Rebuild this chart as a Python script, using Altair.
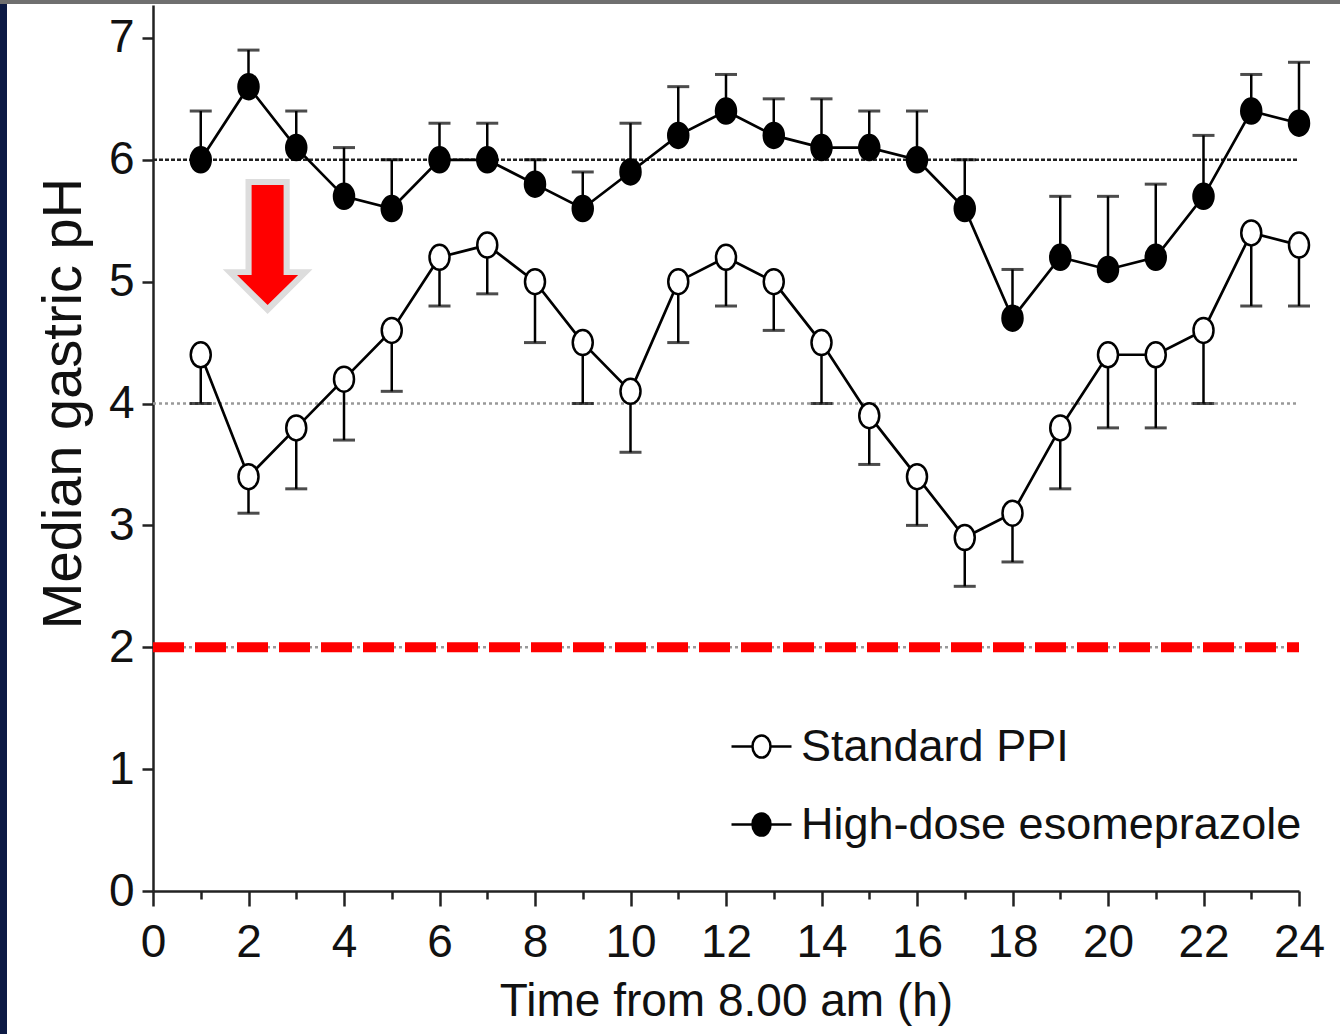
import altair as alt
import pandas as pd

# ---- data ----
hours = list(range(1, 25))
high_dose = [6.0, 6.6, 6.1, 5.7, 5.6, 6.0, 6.0, 5.8, 5.6, 5.9, 6.2, 6.4,
             6.2, 6.1, 6.1, 6.0, 5.6, 4.7, 5.2, 5.1, 5.2, 5.7, 6.4, 6.3]
high_dose_upper = [6.4, 6.9, 6.4, 6.1, 6.0, 6.3, 6.3, 6.0, 5.9, 6.3, 6.6, 6.7,
                   6.5, 6.5, 6.4, 6.4, 6.0, 5.1, 5.7, 5.7, 5.8, 6.2, 6.7, 6.8]
standard = [4.4, 3.4, 3.8, 4.2, 4.6, 5.2, 5.3, 5.0, 4.5, 4.1, 5.0, 5.2,
            5.0, 4.5, 3.9, 3.4, 2.9, 3.1, 3.8, 4.4, 4.4, 4.6, 5.4, 5.3]
standard_lower = [4.0, 3.1, 3.3, 3.7, 4.1, 4.8, 4.9, 4.5, 4.0, 3.6, 4.5, 4.8,
                  4.6, 4.0, 3.5, 3.0, 2.5, 2.7, 3.3, 3.8, 3.8, 4.0, 4.8, 4.8]
series_names = ["Standard PPI", "High-dose esomeprazole"]
black_ref_levels = [6]
gray_ref_levels = [4, 2]
red_threshold = [2]
arrow_x = [2.4]
arrow_y = [5.3]

W, H = 1146, 886
FONT = "Liberation Sans, Arial, Helvetica, sans-serif"

df = pd.DataFrame({
    "hour": hours * 2,
    "median": standard + high_dose,
    "bound": standard_lower + high_dose_upper,
    "series": [series_names[0]] * 24 + [series_names[1]] * 24,
})

xscale = alt.Scale(domain=[0, 24], nice=False, zero=False)
yscale = alt.Scale(domain=[0, 7.27], nice=False)

x_axis = alt.Axis(
    values=list(range(0, 25)),
    format="d",
    labelExpr="datum.value % 2 == 0 ? datum.label : ''",
    labelFlush=False,
    tickSize={"condition": {"test": "datum.value % 2 == 0", "value": 15}, "value": 8},
    title="Time from 8.00 am (h)",
    grid=False,
)
y_axis = alt.Axis(values=list(range(0, 8)), format="d", title="Median gastric pH", grid=False,
                  labelFlush=False,
                  titleX=-73, titleY=398, titleAlign="center", titleBaseline="alphabetic",
                  titleFontSize=56)

X = alt.X("hour:Q", scale=xscale, axis=x_axis)
Y = alt.Y("median:Q", scale=yscale, axis=y_axis)

base = alt.Chart(df)

frame = alt.Chart(pd.DataFrame({"k": [0]}))
navy = frame.mark_rect(color="#0c1a44").encode(
    x=alt.value(-153), x2=alt.value(-146), y=alt.value(-5), y2=alt.value(H + 143))
topbar = frame.mark_rect(color="#6f6f6f").encode(
    x=alt.value(-153), x2=alt.value(W + 41), y=alt.value(-5), y2=alt.value(-1))

ref_black = alt.Chart(pd.DataFrame({"lvl": black_ref_levels})).mark_rule(
    color="#222", strokeWidth=2.5, strokeDash=[4, 2]).encode(
    y=alt.Y("lvl:Q", scale=yscale), x=alt.datum(0, scale=xscale), x2=alt.datum(24))
ref_gray = alt.Chart(pd.DataFrame({"lvl": gray_ref_levels})).mark_rule(
    color="#999", strokeWidth=2.5, strokeDash=[3, 3]).encode(
    y=alt.Y("lvl:Q", scale=yscale), x=alt.datum(0, scale=xscale), x2=alt.datum(24))
ref_red = alt.Chart(pd.DataFrame({"lvl": red_threshold})).mark_rule(
    color="#ff0000", strokeWidth=10, strokeDash=[31, 11]).encode(
    y=alt.Y("lvl:Q", scale=yscale), x=alt.datum(0, scale=xscale), x2=alt.datum(24))

err = base.mark_rule(color="black", strokeWidth=2.5).encode(x=X, y=Y, y2="bound:Q")
caps = base.mark_tick(orient="horizontal", size=22, thickness=3, color="black").encode(
    x=X, y=alt.Y("bound:Q", scale=yscale))
lines = base.mark_line(color="black", strokeWidth=2.7).encode(x=X, y=Y, detail="series:N")

ellipse = "M0,-1A0.8,1,0,1,1,0,1A0.8,1,0,1,1,0,-1Z"
legend_sym = "M-1,0H-0.3M0.3,0H1M0.3,0A0.3,0.37,0,1,1,-0.3,0A0.3,0.37,0,1,1,0.3,0Z"
points = base.mark_point(shape=ellipse, size=625, filled=True, stroke="black",
                         strokeWidth=2.5, opacity=1).encode(
    x=X, y=Y,
    fill=alt.Fill("series:N", scale=alt.Scale(domain=series_names, range=["white", "black"]),
                  legend=alt.Legend(title=None, orient="none", legendX=577, legendY=710,
                                    symbolType=legend_sym, symbolSize=3600,
                                    symbolStrokeColor="black", symbolStrokeWidth=2.5,
                                    symbolOpacity=1, labelFont=FONT, labelFontSize=45,
                                    labelColor="#111", labelLimit=800, labelOffset=8,
                                    rowPadding=23)),
)

arrow_df = pd.DataFrame({"ax": arrow_x, "ay": arrow_y})
gray_path = ("M-0.34,-1.015L0.34,-1.015L0.34,0.37L0.69,0.37L0,1.06"
             "L-0.69,0.37L-0.34,0.37Z")
red_path = ("M-0.246,-0.923L0.246,-0.923L0.246,0.46L0.47,0.46L0,0.923"
            "L-0.47,0.46L-0.246,0.46Z")
arrow_halo = alt.Chart(arrow_df).mark_point(
    shape=gray_path, size=130 * 130, filled=True, fill="#dddddd", strokeWidth=0, opacity=1).encode(
    x=alt.X("ax:Q", scale=xscale), y=alt.Y("ay:Q", scale=yscale))
arrow = alt.Chart(arrow_df).mark_point(
    shape=red_path, size=130 * 130, filled=True, fill="#ff0000", strokeWidth=0, opacity=1).encode(
    x=alt.X("ax:Q", scale=xscale), y=alt.Y("ay:Q", scale=yscale))

chart = alt.layer(navy, topbar, ref_black, ref_gray, ref_red, err, caps, lines, points,
                  arrow_halo, arrow).properties(
    width=W, height=H,
    autosize=alt.AutoSizeParams(type="none"),
    padding={"left": 153, "top": 5, "right": 41, "bottom": 143},
    background="white",
).configure_view(stroke=None).configure_axis(
    domainColor="#222", domainWidth=2.5, tickColor="#222", tickWidth=2.5,
    labelFont=FONT, labelFontSize=46, labelColor="#111",
    titleFont=FONT, titleFontSize=46, titleColor="#111", titleFontWeight="normal",
).configure_axisY(tickSize=11, labelPadding=8).configure_axisX(labelPadding=14, titlePadding=14)

chart.save("out.html", embed_options={"renderer": "svg", "actions": False})
